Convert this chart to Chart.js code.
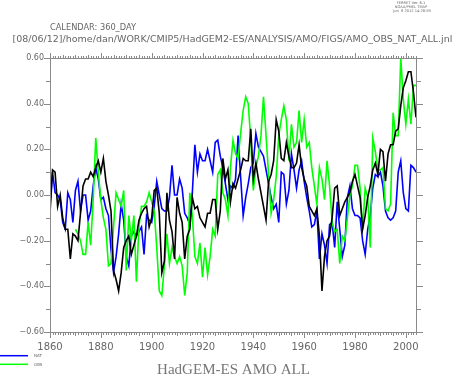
<!DOCTYPE html>
<html>
<head>
<meta charset="utf-8">
<script src="https://cdn.jsdelivr.net/npm/chart.js@4"></script>
<style>
  html, body { margin: 0; padding: 0; background: #fff; }
  #wrap { width: 454px; height: 374px; }
</style>
</head>
<body>
<div id="wrap"><canvas id="amo" width="454" height="374"></canvas></div>
<script>
// --- data (annual AMO index) ---
const FIRST_YEAR = 1860;
const LAST_YEAR = 2004;
const OBS_FIRST_YEAR = 1870;

// black line: HadGEM2-ES all forcings
const allForcing = [
  -0.05, 0.11, 0.10, -0.05, 0.00, -0.10, -0.15, -0.15, -0.28, -0.17,
  -0.18, -0.20, -0.08, 0.04, 0.07, 0.07, 0.10, 0.08, 0.12, 0.15,
  0.10, 0.16, 0.06, 0.00, -0.07, -0.33, -0.37, -0.42, -0.34, -0.23,
  -0.20, -0.18, -0.26, -0.22, -0.18, -0.11, -0.08, -0.06, -0.05, -0.14,
  -0.10, 0.02, 0.03, -0.08, -0.34, -0.29, 0.01, -0.11, -0.16, -0.28,
  -0.01, -0.08, -0.12, -0.28, -0.18, -0.15, -0.01, -0.06, -0.05, -0.10,
  -0.12, -0.14, -0.08, -0.08, -0.02, -0.02, -0.15, -0.07, 0.16, 0.07,
  0.11, -0.03, 0.05, 0.03, 0.07, 0.11, 0.16, 0.15, 0.15, 0.29,
  0.07, 0.14, 0.07, 0.01, -0.05, -0.11, 0.06, 0.09, 0.15, 0.33,
  0.28, 0.16, 0.15, 0.23, 0.17, 0.12, 0.12, 0.14, 0.22, 0.12,
  0.07, 0.04, -0.05, -0.07, -0.09, -0.06, -0.18, -0.42, -0.27, -0.20,
  -0.18, -0.10, 0.03, 0.04, -0.09, -0.06, -0.03, -0.01, 0.01, 0.06,
  0.09, 0.04, -0.01, -0.15, -0.09, -0.01, 0.04, 0.11, 0.14, 0.09,
  0.20, 0.19, 0.06, 0.18, 0.22, 0.22, 0.28, 0.29, 0.39, 0.47,
  0.50, 0.54, 0.54, 0.45, 0.34
];

// blue line: natural forcing only
const natForcing = [
  -0.08, 0.10, 0.01, 0.00, -0.02, -0.12, -0.15, 0.01, -0.02, -0.12,
  0.02, 0.06, -0.07, 0.00, 0.00, -0.11, -0.07, 0.04, 0.12, 0.07,
  -0.02, -0.01, -0.06, -0.09, -0.24, -0.34, -0.27, -0.17, -0.04, -0.11,
  -0.27, -0.31, -0.18, -0.16, -0.18, -0.16, -0.14, -0.26, -0.09, -0.11,
  -0.12, -0.05, 0.06, 0.00, -0.06, -0.07, -0.07, -0.01, 0.13, 0.00,
  0.00, 0.07, 0.03, -0.08, -0.10, -0.13, 0.01, 0.22, 0.10, 0.18,
  0.15, 0.15, 0.20, 0.15, 0.10, 0.23, 0.24, 0.17, 0.12, 0.05,
  -0.02, 0.04, 0.03, 0.07, 0.26, 0.08, -0.09, -0.01, 0.05, 0.12,
  0.14, 0.27, 0.21, 0.19, 0.17, 0.11, 0.05, -0.01, -0.06, -0.04,
  -0.12, 0.10, 0.09, -0.04, 0.02, 0.18, 0.11, 0.03, 0.11, 0.15,
  0.06, -0.01, -0.07, -0.14, -0.13, -0.07, -0.28, -0.17, -0.22, -0.30,
  -0.13, -0.12, -0.23, -0.03, -0.15, -0.27, -0.22, -0.01, 0.04, -0.06,
  -0.09, -0.09, -0.10, -0.20, -0.26, -0.15, -0.09, 0.03, 0.09, 0.08,
  0.10, 0.04, -0.07, -0.10, -0.11, -0.10, -0.07, 0.10, 0.15, 0.01,
  -0.06, -0.07, 0.13, 0.12, 0.10
];

// green line: observations, from 1870
const obs = [
  -0.15, -0.17, -0.20, -0.26, -0.26, -0.12, -0.22, -0.02, 0.25, 0.10,
  -0.02, -0.10, -0.15, -0.31, -0.30, -0.14, 0.01, -0.02, -0.05, 0.02,
  -0.33, -0.09, -0.20, -0.09, -0.38, -0.14, -0.05, -0.05, -0.03, 0.01,
  -0.03, -0.07, -0.23, -0.42, -0.44, -0.31, -0.17, -0.30, -0.23, -0.27,
  -0.30, -0.27, -0.31, -0.44, -0.34, 0.01, -0.09, -0.27, -0.30, -0.21,
  -0.36, -0.23, -0.35, -0.27, -0.15, -0.18, 0.09, 0.11, 0.01, -0.02,
  -0.09, 0.12, 0.24, 0.18, 0.16, 0.27, 0.37, 0.43, 0.40, 0.24,
  0.02, 0.12, 0.17, 0.26, 0.43, 0.26, 0.09, -0.08, -0.02, 0.08,
  0.26, 0.33, 0.39, 0.33, 0.15, 0.31, 0.21, 0.23, 0.37, 0.23,
  0.33, 0.21, 0.23, 0.12, 0.04, -0.04, 0.12, 0.07, -0.02, 0.15,
  0.04, -0.12, -0.16, -0.15, -0.30, -0.18, -0.20, -0.10, 0.00, 0.04,
  0.13, 0.13, 0.03, -0.15, 0.03, -0.01, -0.23, 0.25, 0.19, 0.11,
  0.11, 0.12, -0.06, -0.07, -0.04, 0.36, 0.26, 0.26, 0.60, 0.42,
  0.31, 0.42, 0.31, 0.48, 0.48
];

const xTickYears = [1860, 1880, 1900, 1920, 1940, 1960, 1980, 2000];
const yTickValues = [-0.6, -0.4, -0.2, 0, 0.2, 0.4, 0.6];

const AXIS_GREY = '#8a8a8a';
const TEXT_GREY = '#666';

function toPoints(vals, start) {
  return vals.map((v, i) => ({ x: start + i, y: v }));
}

function fmtY(v) {
  if (Math.abs(v) < 1e-9) return '0.00';
  return (v < 0 ? '\u2212' : '') + Math.abs(v).toFixed(2);
}

// draw text scaled so it fills a given width
function fitText(ctx, text, x, y, width, family, align) {
  ctx.font = '10px ' + family;
  const size = 10 * width / ctx.measureText(text).width;
  ctx.font = size.toFixed(2) + 'px ' + family;
  ctx.textAlign = align;
  ctx.fillText(text, x, y);
}

// frame + Ferret-style outward ticks on all four sides
const framePlugin = {
  id: 'frame',
  afterDraw(chart) {
    const { ctx, chartArea: a, scales: { x, y } } = chart;
    ctx.save();
    ctx.strokeStyle = AXIS_GREY;
    ctx.lineWidth = 1;
    ctx.strokeRect(a.left + 0.5, a.top + 0.5, a.right - a.left, a.bottom - a.top);
    ctx.beginPath();
    for (let yr = FIRST_YEAR; yr <= LAST_YEAR; yr++) {
      const px = Math.round(x.getPixelForValue(yr)) + 0.5;
      const len = yr % 20 === 0 ? 5 : (yr % 5 === 0 ? 3 : 2);
      ctx.moveTo(px, a.bottom + 1); ctx.lineTo(px, a.bottom + 1 + len);
      ctx.moveTo(px, a.top); ctx.lineTo(px, a.top - len);
    }
    for (let k = -6; k <= 6; k++) {
      const py = Math.round(y.getPixelForValue(k / 10)) + 0.5;
      const len = k % 2 === 0 ? 6 : 4;
      ctx.moveTo(a.left, py); ctx.lineTo(a.left - len, py);
      ctx.moveTo(a.right + 1, py); ctx.lineTo(a.right + 1 + len, py);
    }
    ctx.stroke();
    ctx.restore();
  }
};

// header lines, legend and title
const textPlugin = {
  id: 'texts',
  afterDraw(chart) {
    const { ctx } = chart;
    ctx.save();
    ctx.fillStyle = TEXT_GREY;
    ctx.textBaseline = 'alphabetic';

    ctx.font = '3.6px "DejaVu Sans"';
    ctx.textAlign = 'center';
    ctx.fillText('FERRET Ver. 6.1', 411, 4.3);
    ctx.fillText('NOAA/PMEL TMAP', 411, 8);
    ctx.fillText('Jun  8 2012 14:28:59', 412, 12);

    fitText(ctx, 'CALENDAR: 360_DAY', 50, 30, 86, '"DejaVu Sans"', 'left');
    fitText(ctx, '[08/06/12]/home/dan/WORK/CMIP5/HadGEM2-ES/ANALYSIS/AMO/FIGS/AMO_OBS_NAT_ALL.jnl',
      12.5, 42, 440, '"DejaVu Sans"', 'left');

    // legend
    const legend = [
      { label: 'NAT', color: '#0000ff', y: 355.7 },
      { label: 'OBS', color: '#00ff00', y: 364.3 }
    ];
    legend.forEach(item => {
      ctx.strokeStyle = item.color;
      ctx.lineWidth = 1.5;
      ctx.beginPath();
      ctx.moveTo(0, item.y); ctx.lineTo(28, item.y);
      ctx.stroke();
      ctx.font = '4px "DejaVu Sans"';
      ctx.textAlign = 'left';
      ctx.fillText(item.label, 34, item.y + 1.3);
    });

    ctx.fillStyle = '#777';
    fitText(ctx, 'HadGEM-ES AMO ALL', 233.5, 374, 153, '"Liberation Serif"', 'center');
    ctx.restore();
  }
};

new Chart(document.getElementById('amo'), {
  type: 'line',
  data: {
    datasets: [
      { label: 'ALL', data: toPoints(allForcing, FIRST_YEAR), borderColor: '#000000' },
      { label: 'OBS', data: toPoints(obs, OBS_FIRST_YEAR), borderColor: '#00ff00' },
      { label: 'NAT', data: toPoints(natForcing, FIRST_YEAR), borderColor: '#0000ff' }
    ].map(d => Object.assign(d, { borderWidth: 1.6, pointRadius: 0, tension: 0, fill: false }))
  },
  options: {
    responsive: false,
    animation: false,
    devicePixelRatio: 1,
    layout: { padding: { top: 58, right: 38, bottom: 0, left: 0 } },
    plugins: { legend: { display: false }, tooltip: { enabled: false } },
    scales: {
      x: {
        type: 'linear',
        min: FIRST_YEAR,
        max: LAST_YEAR,
        afterBuildTicks: s => { s.ticks = xTickYears.map(v => ({ value: v })); },
        afterFit: s => { s.height = 42; },
        grid: { display: false, drawTicks: false },
        border: { display: false },
        ticks: {
          padding: 9,
          color: TEXT_GREY,
          maxRotation: 0,
          autoSkip: false,
          font: { family: 'DejaVu Sans', size: 10 },
          callback: v => String(v)
        }
      },
      y: {
        type: 'linear',
        min: -0.6,
        max: 0.6,
        afterBuildTicks: s => { s.ticks = yTickValues.map(v => ({ value: v })); },
        afterFit: s => { s.width = 50; },
        grid: { display: false, drawTicks: false },
        border: { display: false },
        ticks: {
          padding: 6,
          color: TEXT_GREY,
          font: { family: 'DejaVu Sans', size: 8 },
          callback: v => fmtY(v)
        }
      }
    }
  },
  plugins: [framePlugin, textPlugin]
});
</script>
</body>
</html>
